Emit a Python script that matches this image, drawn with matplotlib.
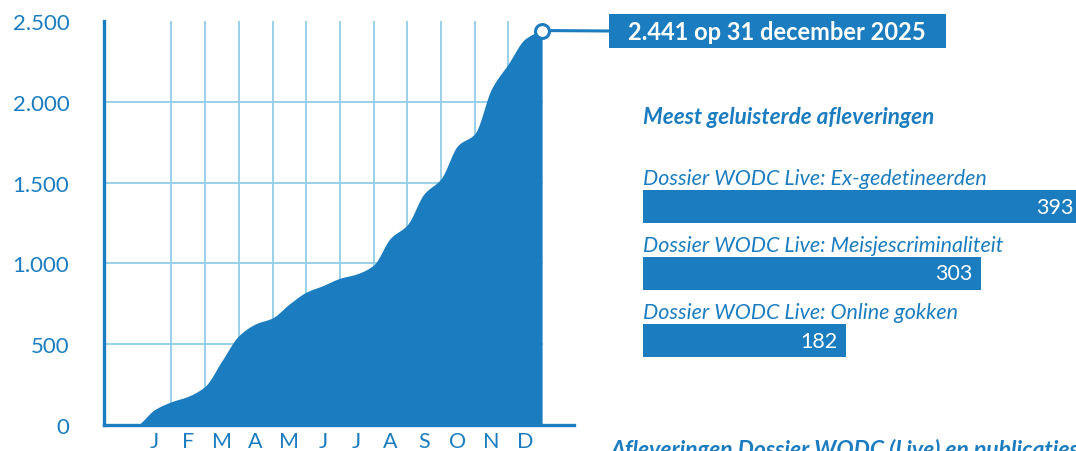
import numpy as np
import matplotlib
matplotlib.use("Agg")
import matplotlib.pyplot as plt
from matplotlib.patches import Rectangle

# ---------------- data ----------------
maanden = ['J', 'F', 'M', 'A', 'M', 'J', 'J', 'A', 'S', 'O', 'N', 'D']
# time in months since 1 January (half-month steps)
tijd = [0, 0.5, 1, 1.5, 2, 2.5, 3, 3.5, 4, 4.5, 5, 5.5, 6, 6.5, 7, 7.5,
        8, 8.5, 9, 9.5, 10, 10.5, 11, 11.5, 12]
cumulatief = [0, 95, 144, 178, 240, 398, 553, 626, 663, 749, 822, 863, 908,
              935, 990, 1156, 1239, 1431, 1524, 1730, 1802, 2081, 2236, 2390, 2441]
totaal = 2441
totaal_tekst = "2.441 op 31 december 2025"
y_ticks = [0, 500, 1000, 1500, 2000, 2500]
y_labels = ['0', '500', '1.000', '1.500', '2.000', '2.500']

top_titel = "Meest geluisterde afleveringen"
afleveringen = ["Dossier WODC Live: Ex-gedetineerden",
                "Dossier WODC Live: Meisjescriminaliteit",
                "Dossier WODC Live: Online gokken"]
luisterbeurten = [393, 303, 182]
onder_titel = "Afleveringen Dossier WODC (Live) en publicaties"

# ---------------- style ----------------
BLUE = "#1b7dc0"
GRID = "#92cdea"
FONT = "Lato"
plt.rcParams['font.family'] = [FONT, 'DejaVu Sans']

W, H = 1076, 452
fig = plt.figure(figsize=(W / 100, H / 100), dpi=100)
fig.patch.set_facecolor("white")


def fx(px):
    return px / W


def fy(py):
    return (H - py) / H


# ---------------- smooth monotone curve ----------------
def pchip(x, y, xn):
    x = np.asarray(x, float)
    y = np.asarray(y, float)
    h = np.diff(x)
    d = np.diff(y) / h
    m = np.zeros_like(y)
    for k in range(1, len(x) - 1):
        if d[k - 1] * d[k] <= 0:
            m[k] = 0
        else:
            w1 = 2 * h[k] + h[k - 1]
            w2 = h[k] + 2 * h[k - 1]
            m[k] = (w1 + w2) / (w1 / d[k - 1] + w2 / d[k])
    m[0] = d[0] * 0.6
    m[-1] = d[-1] * 0.5
    idx = np.clip(np.searchsorted(x, xn) - 1, 0, len(h) - 1)
    t = (xn - x[idx]) / h[idx]
    h00 = 2 * t**3 - 3 * t**2 + 1
    h10 = t**3 - 2 * t**2 + t
    h01 = -2 * t**3 + 3 * t**2
    h11 = t**3 - t**2
    return (h00 * y[idx] + h10 * h[idx] * m[idx] + h01 * y[idx + 1]
            + h11 * h[idx] * m[idx + 1])


# ---------------- area chart ----------------
ax = fig.add_axes([fx(104), fy(426), fx(574) - fx(104), fy(22) - fy(426)])
ax.patch.set_visible(False)
ax.set_xlim(-1, -1 + (574 - 104) / 33.7)
ax.set_ylim(0, 404 / 81 * 500)

xs = np.linspace(tijd[0], tijd[-1], 600)
ys = pchip(tijd, cumulatief, xs)
ax.fill_between(xs, 0, ys, color=BLUE, lw=0, zorder=2)

# grid
for k in range(1, 12):
    ax.axvline(k, color=GRID, lw=1.3, zorder=1)
for v in y_ticks[1:-1]:
    ax.plot([-1, tijd[-1]], [v, v], color=GRID, lw=1.3, zorder=1)

for s in ['top', 'right']:
    ax.spines[s].set_visible(False)
for s in ['left', 'bottom']:
    ax.spines[s].set_color(BLUE)
    ax.spines[s].set_linewidth(2.4)
    ax.spines[s].set_zorder(3)

ax.set_yticks(y_ticks)
ax.set_yticklabels(y_labels)
ax.set_xticks(np.arange(12) + 0.5)
ax.set_xticklabels(maanden)
ax.tick_params(axis='y', length=0, pad=25, labelsize=16, labelcolor=BLUE)
ax.tick_params(axis='x', length=0, pad=4, labelsize=15.5, labelcolor=BLUE)

# connector + marker
ax.annotate('', xy=(tijd[-1], totaal), xycoords='data',
            xytext=(609, H - 32), textcoords='figure pixels',
            arrowprops=dict(arrowstyle='-', lw=2.2, color=BLUE,
                            shrinkA=0, shrinkB=0),
            annotation_clip=False, zorder=4)
ax.plot([tijd[-1]], [totaal], 'o', ms=10, mfc='white', mec=BLUE, mew=2.2,
        clip_on=False, zorder=6)

# total box
fig.add_artist(Rectangle((fx(609), fy(49)), fx(946) - fx(609), fy(15) - fy(49),
                         transform=fig.transFigure, color=BLUE, lw=0))
fig.text(fx(777), fy(32), totaal_tekst, color='white', fontsize=17,
         fontweight='bold', ha='center', va='center')

# ---------------- top episodes ----------------
fig.text(fx(643), fy(124), top_titel, color=BLUE, fontsize=16.2,
         fontweight='bold', style='italic', ha='left', va='baseline')

ax2 = fig.add_axes([fx(643), fy(358.25), 1 - fx(643), fy(190.75) - fy(358.25)])
ax2.set_xlim(0, (W - 643) / 1.115)
ax2.set_ylim(2.25, -0.25)
ax2.axis('off')
pos = np.arange(len(afleveringen))
ax2.barh(pos, luisterbeurten, height=0.5, color=BLUE, lw=0)
for i, (lab, v) in enumerate(zip(afleveringen, luisterbeurten)):
    ax2.annotate(lab, xy=(0, i - 0.25), xytext=(0, 4.3), textcoords='offset points',
                 ha='left', va='baseline', color=BLUE, fontsize=15.5, style='italic',
                 annotation_clip=False)
    ax2.annotate(str(v), xy=(v, i), xytext=(-5.8, 0), textcoords='offset points',
                 ha='right', va='center', color='white', fontsize=15.5,
                 annotation_clip=False)

# cut-off heading at the bottom (cut off in the original as well)
fig.text(fx(611), fy(457), onder_titel, color=BLUE, fontsize=16.5,
         fontweight='bold', style='italic', ha='left', va='baseline')

fig.savefig("out.png", dpi=100)
